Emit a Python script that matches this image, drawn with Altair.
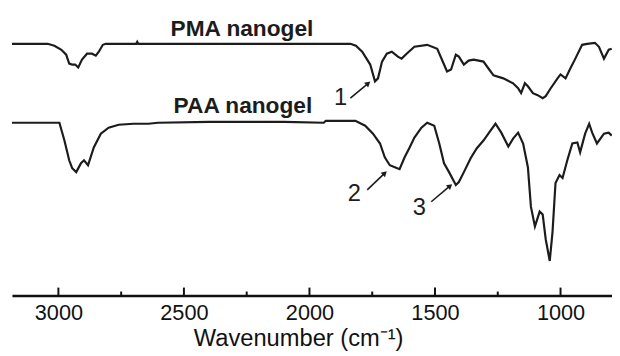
import altair as alt
import pandas as pd

# ---- data (y in arbitrary transmittance units) ----
pma_wn = [3185, 3043, 3016, 2988, 2969, 2957, 2945, 2933, 2921, 2906, 2886, 2866, 2851, 2839,
          2823, 2811, 2690, 2686, 2682, 1837, 1815, 1790, 1758, 1739, 1727, 1711, 1692, 1672,
          1648, 1633, 1613, 1582, 1531, 1491, 1464, 1452, 1436, 1417, 1405, 1385, 1366, 1346,
          1307, 1287, 1267, 1228, 1189, 1169, 1157, 1142, 1130, 1110, 1091, 1071, 1059, 1039,
          1012, 1000, 980, 961, 941, 914, 894, 863, 847, 827, 808, 796]
pma_t = [255, 255, 253, 249, 244, 235, 234, 234, 231, 239, 245, 245, 243, 247,
         254, 255, 255, 257, 255, 255, 253, 247, 234, 217, 220, 237, 245, 247,
         242, 240, 245, 252, 254, 250, 234, 227, 229, 244, 242, 234, 238, 239,
         237, 230, 223, 220, 215, 210, 205, 215, 212, 205, 203, 200, 202, 210,
         220, 224, 220, 230, 240, 254, 255, 256, 252, 240, 249, 250]

paa_wn = [3185, 2996, 2976, 2957, 2945, 2929, 2910, 2898, 2882, 2859, 2831, 2800, 2760, 2701,
          2642, 2603, 2400, 2100, 1943, 1935, 1817, 1778, 1747, 1719, 1700, 1680, 1660, 1641,
          1621, 1601, 1582, 1554, 1531, 1503, 1483, 1464, 1444, 1417, 1405, 1385, 1358, 1334,
          1307, 1279, 1259, 1236, 1208, 1189, 1169, 1149, 1130, 1118, 1102, 1083, 1071, 1059,
          1043, 1032, 1020, 1004, 992, 973, 953, 933, 922, 902, 886, 874, 855, 827, 808, 796]
paa_t = [175, 175, 157, 137, 129, 125, 134, 137, 132, 150, 164, 170, 173, 174,
         174, 175, 176, 176, 175, 177, 177, 172, 164, 154, 140, 132, 130, 128,
         140, 150, 160, 170, 175, 172, 154, 134, 125, 112, 115, 125, 139, 149,
         157, 167, 174, 165, 151, 159, 165, 154, 130, 90, 70, 85, 82, 57,
         35, 64, 114, 122, 119, 137, 154, 155, 145, 164, 174, 165, 154, 164, 165, 162]

series_names = ["PMA nanogel", "PAA nanogel"]
series_label_wn = [2269, 2265]
series_label_t = [263, 185]

peak_labels = ["1", "2", "3"]
peak_label_wn = [1876, 1821, 1562]
peak_label_t = [200, 103, 89]
arrow_wn_start = [1837, 1770, 1515]
arrow_t_start = [200, 107, 95]
arrow_wn_end = [1766, 1700, 1440]
arrow_t_end = [215, 124, 111]
arrow_angle = [50, 47, 50]

major_ticks = [3000, 2500, 2000, 1500, 1000]
minor_ticks = [2750, 2250, 1750, 1250]

X_DOMAIN = [795, 3185]
Y_DOMAIN = [0, 289]

# ---- tables ----
spec = pd.concat([
    pd.DataFrame({"wn": pma_wn, "t": pma_t, "series": series_names[0]}),
    pd.DataFrame({"wn": paa_wn, "t": paa_t, "series": series_names[1]}),
])
labels_df = pd.DataFrame({"wn": series_label_wn, "t": series_label_t, "name": series_names})
peaks_df = pd.DataFrame({"wn": peak_label_wn, "t": peak_label_t, "lab": peak_labels})
arrows_df = pd.DataFrame({"wn": arrow_wn_start, "t": arrow_t_start,
                          "wn2": arrow_wn_end, "t2": arrow_t_end, "ang": arrow_angle})
major_df = pd.DataFrame({"wn": major_ticks})
minor_df = pd.DataFrame({"wn": minor_ticks})

FONT = "Liberation Sans"
xscale = alt.Scale(domain=X_DOMAIN, reverse=True, nice=False, zero=False)
yscale = alt.Scale(domain=Y_DOMAIN, nice=False, zero=False)

x_axis = alt.Axis(
    values=major_ticks, format="d", ticks=False, grid=False, domainWidth=2.5, domainColor="#111",
    labelFont=FONT, labelFontSize=22, labelColor="#111", labelPadding=7, labelFlush=False,
    title="Wavenumber (cm⁻¹)", titleFont=FONT, titleFontSize=24, titleFontWeight="normal",
    titleColor="#111", titleX=290, titleY=51, titleBaseline="alphabetic", titleAlign="center",
)

lines = alt.Chart(spec).mark_line(color="#1c1c1c", strokeWidth=2.2, clip=True).encode(
    x=alt.X("wn:Q", scale=xscale, axis=x_axis),
    y=alt.Y("t:Q", scale=yscale, axis=None),
    detail="series:N",
    order=alt.Order("wn:Q", sort="descending"),
)

names = alt.Chart(labels_df).mark_text(
    font=FONT, fontSize=23, fontWeight="bold", color="#1c1c1c", baseline="alphabetic", align="center"
).encode(x=alt.X("wn:Q", scale=xscale), y=alt.Y("t:Q", scale=yscale), text="name:N")

peaks = alt.Chart(peaks_df).mark_text(
    font=FONT, fontSize=24, color="#1c1c1c", baseline="middle", align="center"
).encode(x=alt.X("wn:Q", scale=xscale), y=alt.Y("t:Q", scale=yscale), text="lab:N")

shafts = alt.Chart(arrows_df).mark_rule(color="#1c1c1c", strokeWidth=1.6).encode(
    x=alt.X("wn:Q", scale=xscale), y=alt.Y("t:Q", scale=yscale), x2="wn2:Q", y2="t2:Q"
)
heads = alt.Chart(arrows_df).mark_point(
    shape="triangle-up", filled=True, color="#1c1c1c", size=40, opacity=1
).encode(x=alt.X("wn2:Q", scale=xscale), y=alt.Y("t2:Q", scale=yscale), angle=alt.Angle("ang:Q", scale=None))

major = alt.Chart(major_df).mark_rule(color="#111", strokeWidth=2).encode(
    x=alt.X("wn:Q", scale=xscale), y=alt.value(281), y2=alt.value(289)
)
minor = alt.Chart(minor_df).mark_rule(color="#111", strokeWidth=2).encode(
    x=alt.X("wn:Q", scale=xscale), y=alt.value(285), y2=alt.value(289)
)

chart = alt.layer(lines, names, peaks, shafts, heads, major, minor).properties(
    width=608, height=289,
    autosize=alt.AutoSizeParams(type="none"),
    padding={"left": 4, "top": 0, "right": 0, "bottom": 58},
    background="white",
).configure_view(stroke=None)

chart.save("out.html", embed_options={"renderer": "svg", "actions": False})
